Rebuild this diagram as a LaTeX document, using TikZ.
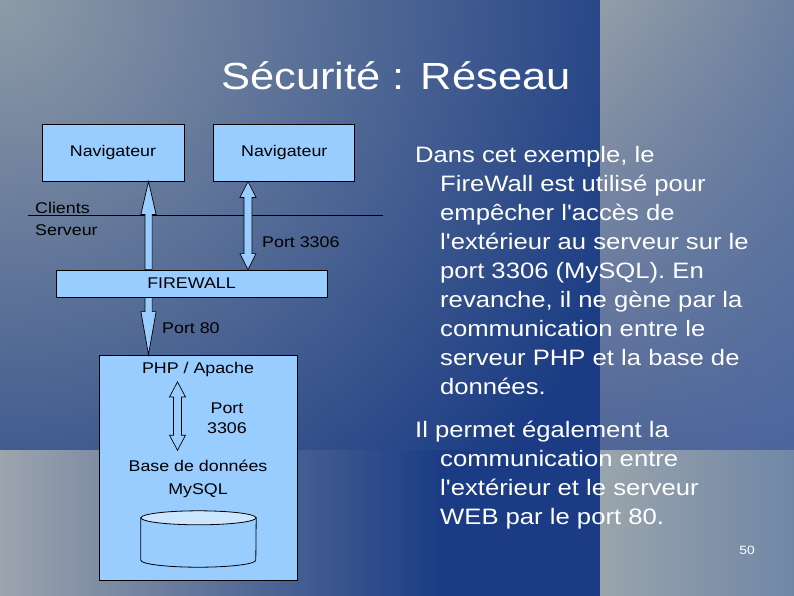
\documentclass[tikz,border=0pt]{standalone}
\usepackage{fontspec}
\setmainfont{Liberation Sans}[FakeStretch=1.15, Ligatures=TeXOff]
\usetikzlibrary{positioning, calc, shadings}

\definecolor{boxblue}{HTML}{99CCFF}
\definecolor{topblue}{HTML}{CDE6FF}
\definecolor{slate}{HTML}{8E9BA7}
\definecolor{deepblue}{HTML}{1B3C84}
\definecolor{rightul}{RGB}{148,158,168}
\definecolor{rightur}{RGB}{107,128,160}
\definecolor{rightll}{RGB}{80,102,152}
\definecolor{rightlr}{RGB}{76,102,158}
\definecolor{lowgray}{RGB}{158,166,174}
\definecolor{cornergray}{RGB}{154,164,172}
\definecolor{cornerblue}{RGB}{110,134,166}

% block arrows between two points
\newcommand{\onearrow}[3]{%
  \coordinate (h) at ($(#2)!#3!(#1)$);
  \draw[arr] ($(#1)!3.6pt!90:(#2)$) -- ($(h)!3.6pt!90:(#2)$) -- ($(h)!7.6pt!90:(#2)$) -- (#2)
    -- ($(h)!7.6pt!-90:(#2)$) -- ($(h)!3.6pt!-90:(#2)$) -- ($(#1)!3.6pt!-90:(#2)$) -- cycle;}
\newcommand{\twoarrow}[3]{%
  \coordinate (h1) at ($(#2)!#3!(#1)$);
  \coordinate (h2) at ($(#1)!#3!(#2)$);
  \draw[arr] ($(h2)!4pt!90:(#2)$) -- ($(h1)!4pt!90:(#2)$) -- ($(h1)!8pt!90:(#2)$) -- (#2)
    -- ($(h1)!8pt!-90:(#2)$) -- ($(h1)!4pt!-90:(#2)$) -- ($(h2)!4pt!-90:(#2)$)
    -- ($(h2)!8pt!-90:(#2)$) -- (#1) -- ($(h2)!8pt!90:(#2)$) -- cycle;}

\begin{document}
\begin{tikzpicture}[x=1pt, y=-1pt,
    box/.style={draw, fill=boxblue, line width=0.8pt, inner sep=0pt, font=\fontsize{15.5}{20}\selectfont},
    lbl/.style={inner sep=0pt, align=center, font=\fontsize{15.5}{20}\selectfont},
    arr/.style={draw, fill=boxblue, line width=0.7pt},
    para/.style={text=white, inner sep=0pt, align=left, font=\fontsize{22.3}{29}\selectfont}]
	\useasboundingbox (0,0) rectangle (794,595);
	\begin{scope}
		\clip (-5,-5) rectangle (600,450);
		\fill[deepblue] (-5,-5) rectangle (600,450);
		\shade[inner color=slate, outer color=deepblue] (0,0) circle (680);
	\end{scope}
	\shade[upper left=rightul, upper right=rightur, lower left=rightll, lower right=rightlr] (600,-5) rectangle (800,450);
	\shade[left color=lowgray, right color=deepblue] (-5,450) rectangle (440,600);
	\fill[deepblue] (439,450) rectangle (600,600);
	\shade[left color=cornergray, right color=cornerblue] (600,450) rectangle (800,600);

	\node[text=white, inner sep=0pt, anchor=base, font=\fontsize{37.8}{44}\selectfont] (title) at (396,89) {Sécurité : Réseau};

	\node[box, minimum width=142pt, minimum height=57pt] (nav1) at (113,152.5) {Navigateur};
	\node[box, minimum width=141pt, minimum height=57pt, right=29pt of nav1] (nav2) {Navigateur};
	\node[box, minimum width=271pt, minimum height=27pt] (fw) at (191.5,283.5) {FIREWALL};
	\node[box, minimum width=198pt, minimum height=225pt] (php) at (198,467.5) {};
	\node[lbl, below=7.5pt of php.north] (apache) {PHP / Apache};
	\node[lbl] (port3306b) at (227,418) {Port\\3306};
	\node[lbl, font=\fontsize{15.5}{22.5}\selectfont] (mysql) at (198,479) {Base de données\\MySQL};
	\node[inner sep=0pt, minimum width=115pt, minimum height=56pt] (db) at (198.5,539) {};
	\draw[line width=0.8pt, fill=boxblue] ($(db.north west)+(0,7)$) -- ($(db.south west)+(0,-7)$)
	  arc[start angle=180, end angle=360, x radius=57.5pt, y radius=7pt] -- ($(db.north east)+(0,7)$) -- cycle;
	\draw[line width=0.8pt, fill=topblue] ($(db.north)+(0,7)$) ellipse [x radius=57.5pt, y radius=7pt];

	\node[lbl, anchor=base west] (clients) at (35,213.3) {Clients};
	\node[lbl, anchor=base west] (serveur) at (35,235.7) {Serveur};
	\draw[line width=0.8pt] (28,215.5) -- (383,215.5);
	\node[lbl, anchor=base west] (port3306a) at (262,247.5) {Port 3306};
	\node[lbl, anchor=base west] (port80) at (162,333.5) {Port 80};

	\coordinate (c1) at (148.5,0);
	\coordinate (c2) at (248,0);
	\coordinate (c3) at (177.5,0);
	\coordinate (i1) at ($(apache.south -| c3)+(0,5)$);
	\coordinate (i2) at ($(mysql.north -| c3)+(0,-10)$);
	\onearrow{fw.north -| c1}{nav1.south -| c1}{33pt}
	\twoarrow{fw.north -| c2}{nav2.south -| c2}{16pt}
	\onearrow{fw.south -| c1}{php.north -| c1}{43pt}
	\twoarrow{i2}{i1}{15pt}

	\node[para, anchor=north west] (text) at (415,145.7) {Dans cet exemple, le\\
	\hspace*{25pt}FireWall est utilisé pour\\
	\hspace*{25pt}empêcher l'accès de\\
	\hspace*{25pt}l'extérieur au serveur sur le\\
	\hspace*{25pt}port 3306 (MySQL). En\\
	\hspace*{25pt}revanche, il ne gène par la\\
	\hspace*{25pt}communication entre le\\
	\hspace*{25pt}serveur PHP et la base de\\
	\hspace*{25pt}données.\\[14pt]
	Il permet également la\\
	\hspace*{25pt}communication entre\\
	\hspace*{25pt}l'extérieur et le serveur\\
	\hspace*{25pt}WEB par le port 80.};
	\node[text=white, inner sep=0pt, font=\fontsize{12}{14}\selectfont] (page) at (747,550) {50};
\end{tikzpicture}
\end{document}
